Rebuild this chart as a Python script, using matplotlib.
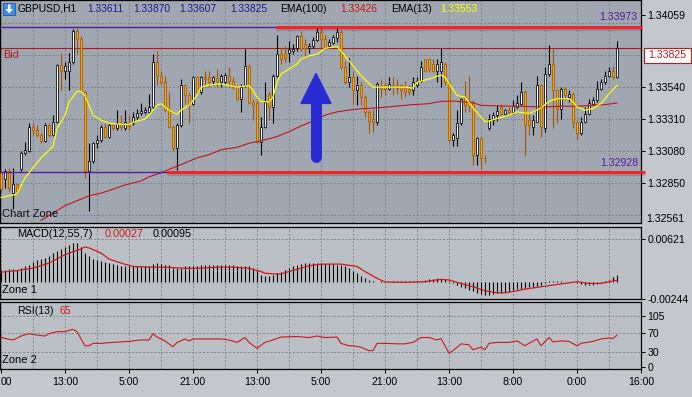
import numpy as np
import matplotlib
matplotlib.use('Agg')
import matplotlib.pyplot as plt
from matplotlib.patches import Rectangle, Polygon

plt.rcParams['font.family'] = ['Liberation Sans', 'DejaVu Sans']

# ---------------- data (GBPUSD H1) ----------------
opens = [1.32923, 1.32875, 1.32935, 1.32780, 1.32840, 1.32947, 1.33065, 1.33077, 1.33255, 1.33231,
         1.33196, 1.33153, 1.33267, 1.33196, 1.33291, 1.33699, 1.33658, 1.33658, 1.33718, 1.33943,
         1.33884, 1.33504, 1.32935, 1.33006, 1.33136, 1.33160, 1.33255, 1.33184, 1.33267, 1.33243,
         1.33272, 1.33243, 1.33279, 1.33279, 1.33326, 1.33357, 1.33362, 1.33362, 1.33397, 1.33718,
         1.33623, 1.33575, 1.33374, 1.33255, 1.33101, 1.33267, 1.33552, 1.33480, 1.33421, 1.33611,
         1.33504, 1.33611, 1.33611, 1.33587, 1.33604, 1.33575, 1.33575, 1.33623, 1.33587, 1.33540,
         1.33457, 1.33552, 1.33694, 1.33433, 1.33428, 1.33148, 1.33255, 1.33492, 1.33397, 1.33623,
         1.33777, 1.33784, 1.33789, 1.33801, 1.33825, 1.33908, 1.33848, 1.33825, 1.33836, 1.33879,
         1.33936, 1.33889, 1.33836, 1.33860, 1.33896, 1.33936, 1.33682, 1.33575, 1.33611, 1.33516,
         1.33552, 1.33469, 1.33362, 1.33310, 1.33291, 1.33547, 1.33552, 1.33528, 1.33556, 1.33552,
         1.33552, 1.33540, 1.33528, 1.33516, 1.33552, 1.33587, 1.33742, 1.33742, 1.33706, 1.33658,
         1.33658, 1.33706, 1.33575, 1.33160, 1.33172, 1.33279, 1.33469, 1.33438, 1.33428, 1.33053,
         1.33172, 1.33030, 1.33248, 1.33303, 1.33338, 1.33397, 1.33343, 1.33378, 1.33362, 1.33397,
         1.33421, 1.33504, 1.33303, 1.33255, 1.33291, 1.33552, 1.33243, 1.33635, 1.33706, 1.33516,
         1.33386, 1.33528, 1.33469, 1.33492, 1.33291, 1.33208, 1.33291, 1.33350, 1.33421, 1.33445,
         1.33528, 1.33575, 1.33623, 1.33658, 1.33611]
highs = [1.32935, 1.32947, 1.32958, 1.32958, 1.32852, 1.33077, 1.33148, 1.33279, 1.33279, 1.33267,
         1.33208, 1.33279, 1.33279, 1.33338, 1.33706, 1.33789, 1.33718, 1.33789, 1.33960, 1.33967,
         1.33908, 1.33516, 1.33136, 1.33148, 1.33196, 1.33267, 1.33279, 1.33279, 1.33279, 1.33374,
         1.33338, 1.33374, 1.33338, 1.33362, 1.33386, 1.33428, 1.33397, 1.33492, 1.33777, 1.33801,
         1.33658, 1.33623, 1.33504, 1.33267, 1.33279, 1.33599, 1.33564, 1.33504, 1.33623, 1.33623,
         1.33623, 1.33658, 1.33658, 1.33623, 1.33670, 1.33635, 1.33642, 1.33682, 1.33611, 1.33552,
         1.33564, 1.33813, 1.33706, 1.33457, 1.33445, 1.33326, 1.33575, 1.33504, 1.33635, 1.33919,
         1.33825, 1.33836, 1.33872, 1.33848, 1.33919, 1.33943, 1.33884, 1.33860, 1.33903, 1.33967,
         1.33967, 1.33919, 1.33884, 1.33919, 1.33967, 1.33955, 1.33730, 1.33753, 1.33658, 1.33623,
         1.33587, 1.33480, 1.33374, 1.33386, 1.33575, 1.33599, 1.33587, 1.33611, 1.33611, 1.33599,
         1.33564, 1.33587, 1.33552, 1.33611, 1.33611, 1.33730, 1.33746, 1.33753, 1.33742, 1.33742,
         1.33825, 1.33718, 1.33587, 1.33208, 1.33374, 1.33462, 1.33587, 1.33623, 1.33445, 1.33184,
         1.33184, 1.33053, 1.33350, 1.33362, 1.33409, 1.33421, 1.33386, 1.33397, 1.33445, 1.33480,
         1.33575, 1.33516, 1.33362, 1.33338, 1.33623, 1.33564, 1.33682, 1.33841, 1.33825, 1.33528,
         1.33540, 1.33540, 1.33516, 1.33504, 1.33303, 1.33326, 1.33397, 1.33457, 1.33469, 1.33587,
         1.33599, 1.33658, 1.33682, 1.33694, 1.33870]
lows = [1.32792, 1.32816, 1.32792, 1.32662, 1.32769, 1.32935, 1.33053, 1.33070, 1.33196, 1.33184,
        1.33136, 1.33148, 1.33184, 1.33191, 1.33285, 1.33516, 1.33599, 1.33516, 1.33706, 1.33777,
        1.33504, 1.32887, 1.32650, 1.32994, 1.33101, 1.33148, 1.33172, 1.33172, 1.33231, 1.33231,
        1.33231, 1.33231, 1.33231, 1.33267, 1.33314, 1.33338, 1.33350, 1.33357, 1.33386, 1.33552,
        1.33552, 1.33362, 1.33243, 1.33077, 1.32940, 1.33255, 1.33421, 1.33279, 1.33409, 1.33492,
        1.33492, 1.33540, 1.33540, 1.33552, 1.33540, 1.33540, 1.33564, 1.33540, 1.33528, 1.33445,
        1.33362, 1.33540, 1.33421, 1.33303, 1.33136, 1.33053, 1.33243, 1.33303, 1.33279, 1.33611,
        1.33706, 1.33718, 1.33718, 1.33777, 1.33801, 1.33801, 1.33765, 1.33789, 1.33825, 1.33872,
        1.33825, 1.33813, 1.33825, 1.33848, 1.33865, 1.33670, 1.33564, 1.33540, 1.33421, 1.33409,
        1.33409, 1.33326, 1.33208, 1.33219, 1.33267, 1.33469, 1.33480, 1.33516, 1.33480, 1.33492,
        1.33457, 1.33469, 1.33480, 1.33480, 1.33540, 1.33575, 1.33651, 1.33647, 1.33647, 1.33575,
        1.33540, 1.33552, 1.33148, 1.33113, 1.33113, 1.33267, 1.33362, 1.33362, 1.32982, 1.32982,
        1.32947, 1.32994, 1.33231, 1.33267, 1.33295, 1.33338, 1.33338, 1.33338, 1.33350, 1.33390,
        1.33409, 1.33041, 1.33196, 1.33196, 1.33286, 1.33184, 1.33219, 1.33623, 1.33243, 1.33279,
        1.33314, 1.33445, 1.33433, 1.33243, 1.33160, 1.33196, 1.33279, 1.33338, 1.33409, 1.33433,
        1.33516, 1.33564, 1.33611, 1.33599, 1.33607]
closes = [1.32804, 1.32935, 1.32816, 1.32840, 1.32792, 1.33065, 1.33089, 1.33255, 1.33231, 1.33196,
          1.33153, 1.33267, 1.33196, 1.33291, 1.33699, 1.33658, 1.33694, 1.33718, 1.33943, 1.33884,
          1.33509, 1.32935, 1.33006, 1.33136, 1.33160, 1.33255, 1.33184, 1.33267, 1.33243, 1.33272,
          1.33255, 1.33291, 1.33262, 1.33326, 1.33357, 1.33367, 1.33374, 1.33397, 1.33718, 1.33623,
          1.33575, 1.33374, 1.33255, 1.33101, 1.33267, 1.33552, 1.33480, 1.33421, 1.33611, 1.33504,
          1.33611, 1.33599, 1.33575, 1.33611, 1.33587, 1.33623, 1.33628, 1.33587, 1.33540, 1.33457,
          1.33540, 1.33694, 1.33428, 1.33414, 1.33148, 1.33255, 1.33433, 1.33397, 1.33623, 1.33777,
          1.33742, 1.33753, 1.33813, 1.33813, 1.33908, 1.33813, 1.33820, 1.33836, 1.33879, 1.33936,
          1.33889, 1.33832, 1.33865, 1.33903, 1.33936, 1.33682, 1.33575, 1.33611, 1.33516, 1.33552,
          1.33469, 1.33362, 1.33295, 1.33291, 1.33564, 1.33528, 1.33528, 1.33564, 1.33540, 1.33533,
          1.33516, 1.33504, 1.33504, 1.33575, 1.33587, 1.33682, 1.33658, 1.33670, 1.33658, 1.33706,
          1.33718, 1.33575, 1.33160, 1.33196, 1.33279, 1.33457, 1.33409, 1.33404, 1.33053, 1.33172,
          1.33030, 1.33028, 1.33310, 1.33338, 1.33367, 1.33343, 1.33374, 1.33362, 1.33405, 1.33428,
          1.33504, 1.33267, 1.33267, 1.33303, 1.33552, 1.33255, 1.33635, 1.33706, 1.33516, 1.33386,
          1.33528, 1.33480, 1.33492, 1.33291, 1.33208, 1.33291, 1.33350, 1.33428, 1.33445, 1.33528,
          1.33575, 1.33623, 1.33658, 1.33611, 1.33825]

ema13_idx = [0, 4, 6, 8, 10, 13, 14, 16, 17, 19, 20, 21, 22, 23, 25, 27, 30, 32, 34, 36,
             37, 39, 40, 42, 44, 45, 47, 49, 50, 52, 55, 59, 62, 63, 64, 65, 67, 68, 69, 70,
             72, 74, 75, 77, 79, 81, 84, 85, 88, 90, 93, 96, 101, 103, 104, 107, 110, 111, 114, 116,
             118, 121, 122, 124, 127, 129, 132, 133, 135, 137, 139, 142, 143, 144, 146, 148, 150, 152, 154]
ema13_val = [1.32745, 1.32769, 1.32887, 1.32958, 1.33030, 1.33113, 1.33243, 1.33338, 1.33433, 1.33509,
             1.33509, 1.33480, 1.33409, 1.33338, 1.33303, 1.33279, 1.33272, 1.33272, 1.33295, 1.33310,
             1.33338, 1.33409, 1.33421, 1.33374, 1.33343, 1.33374, 1.33409, 1.33480, 1.33540, 1.33556,
             1.33564, 1.33540, 1.33552, 1.33516, 1.33469, 1.33438, 1.33433, 1.33469, 1.33575, 1.33635,
             1.33670, 1.33706, 1.33742, 1.33765, 1.33777, 1.33820, 1.33832, 1.33801, 1.33694, 1.33623,
             1.33540, 1.33540, 1.33540, 1.33533, 1.33575, 1.33599, 1.33628, 1.33611, 1.33480, 1.33469,
             1.33390, 1.33291, 1.33295, 1.33314, 1.33338, 1.33362, 1.33350, 1.33362, 1.33390, 1.33438,
             1.33457, 1.33457, 1.33433, 1.33397, 1.33374, 1.33386, 1.33421, 1.33492, 1.33553]

ema100_idx = [10, 16, 20, 22, 25, 28, 31, 35, 37, 40, 42, 45, 49, 52, 55, 59, 62, 65, 69, 72,
              75, 78, 81, 84, 88, 91, 94, 99, 103, 107, 110, 113, 116, 118, 120, 125, 130, 135, 140, 145,
              148, 151, 154]
ema100_val = [1.32580, 1.32686, 1.32733, 1.32757, 1.32776, 1.32804, 1.32835, 1.32864, 1.32894, 1.32923,
              1.32947, 1.32982, 1.33030, 1.33053, 1.33089, 1.33106, 1.33136, 1.33153, 1.33184, 1.33219,
              1.33260, 1.33295, 1.33338, 1.33362, 1.33379, 1.33386, 1.33390, 1.33404, 1.33414, 1.33421,
              1.33438, 1.33440, 1.33433, 1.33428, 1.33409, 1.33404, 1.33402, 1.33397, 1.33402, 1.33404,
              1.33409, 1.33414, 1.33426]

macd_hist = [0.00177, 0.00177, 0.00187, 0.00187, 0.00177, 0.00201, 0.00226, 0.00250, 0.00285, 0.00314,
             0.00334, 0.00349, 0.00373, 0.00422, 0.00447, 0.00481, 0.00511, 0.00545, 0.00570, 0.00570,
             0.00511, 0.00422, 0.00373, 0.00334, 0.00314, 0.00300, 0.00285, 0.00275, 0.00265, 0.00250,
             0.00236, 0.00226, 0.00226, 0.00226, 0.00226, 0.00226, 0.00226, 0.00240, 0.00265, 0.00275,
             0.00265, 0.00250, 0.00250, 0.00201, 0.00201, 0.00201, 0.00226, 0.00226, 0.00226, 0.00236,
             0.00250, 0.00250, 0.00250, 0.00250, 0.00250, 0.00250, 0.00250, 0.00241, 0.00241, 0.00236,
             0.00226, 0.00226, 0.00226, 0.00201, 0.00177, 0.00103, 0.00088, 0.00088, 0.00103, 0.00128,
             0.00152, 0.00177, 0.00201, 0.00226, 0.00250, 0.00265, 0.00275, 0.00275, 0.00275, 0.00275,
             0.00275, 0.00265, 0.00265, 0.00265, 0.00250, 0.00250, 0.00226, 0.00201, 0.00167, 0.00128,
             0.00088, 0.00054, 0.00029, 0.00015, 0.00005, 0.00008, 0.00006, 0.00005, 0.00008, 0.00010,
             0.00008, 0.00012, 0.00015, 0.00018, 0.00015, 0.00020, 0.00029, 0.00039, 0.00049, 0.00054,
             0.00049, 0.00039, 0.00015, -0.00020, -0.00044, -0.00069, -0.00093, -0.00118, -0.00133, -0.00157,
             -0.00177, -0.00191, -0.00191, -0.00177, -0.00167, -0.00157, -0.00147, -0.00133, -0.00118, -0.00108,
             -0.00098, -0.00088, -0.00079, -0.00069, -0.00059, -0.00049, -0.00020, 0.00010, 0.00015, 0.00010,
             0.00010, 0.00003, 0.00005, -0.00003, -0.00020, -0.00034, -0.00044, -0.00044, -0.00039, -0.00029,
             -0.00010, 0.00010, 0.00029, 0.00069, 0.00095]
signal_idx = [0, 4, 8, 12, 16, 20, 21, 22, 25, 27, 30, 33, 37, 41, 46, 50, 54, 58, 62, 65,
              66, 68, 70, 72, 75, 77, 80, 83, 85, 89, 91, 94, 96, 101, 106, 110, 112, 115, 118, 121,
              124, 126, 129, 131, 135, 138, 141, 144, 147, 150, 151, 154]
signal_val = [0.00142, 0.00167, 0.00201, 0.00275, 0.00398, 0.00481, 0.00511, 0.00496, 0.00422, 0.00334,
              0.00275, 0.00226, 0.00216, 0.00216, 0.00201, 0.00201, 0.00216, 0.00216, 0.00201, 0.00152,
              0.00128, 0.00118, 0.00118, 0.00152, 0.00201, 0.00236, 0.00260, 0.00260, 0.00260, 0.00226,
              0.00152, 0.00054, 0.00000, -0.00005, 0.00005, 0.00039, 0.00029, -0.00020, -0.00069, -0.00128,
              -0.00157, -0.00157, -0.00128, -0.00103, -0.00069, -0.00044, -0.00020, 0.00005, -0.00020, -0.00020,
              -0.00010, 0.00027]

rsi_idx = [0, 1, 3, 5, 7, 9, 11, 12, 14, 16, 18, 19, 21, 22, 23, 25, 28, 32, 35, 37,
           38, 39, 41, 43, 44, 46, 47, 48, 50, 55, 57, 59, 61, 62, 64, 66, 68, 70, 74, 77,
           79, 81, 84, 85, 87, 88, 90, 92, 93, 94, 96, 99, 101, 103, 105, 107, 109, 110, 112, 113,
           115, 117, 118, 120, 121, 122, 124, 127, 129, 131, 132, 134, 135, 137, 138, 140, 142, 144, 145, 148,
           150, 152, 153, 154]
rsi_val = [61, 58, 55, 63, 68, 65, 63, 68, 72, 72, 77, 72, 43, 43, 48, 48, 50, 52, 55, 55,
           68, 61, 53, 41, 50, 57, 53, 57, 57, 57, 55, 50, 60, 50, 38, 50, 55, 61, 62, 60,
           63, 60, 61, 48, 43, 43, 40, 33, 33, 48, 48, 47, 47, 50, 60, 60, 55, 58, 28, 33,
           47, 45, 35, 40, 35, 48, 50, 50, 53, 43, 48, 57, 43, 60, 51, 53, 52, 43, 48, 52,
           57, 59, 58, 65]

time_ticks = [0, 16, 32, 48, 64, 80, 96, 112, 128, 144, 160]
# the first label sits on the left edge, only its "00" shows
time_labels = ['00', '13:00', '5:00', '21:00', '13:00', '5:00', '21:00', '13:00', '8:00', '0:00', '16:00']
price_ticks = [1.32850, 1.33080, 1.33310, 1.33540, 1.34059]
price_grid = [1.32620, 1.32850, 1.33080, 1.33310, 1.33540, 1.33770, 1.34000]
resistance = 1.33973
support = 1.32928
bid = 1.33825

# ---------------- style ----------------
W, H = 692, 397
FIG_BG = '#c4c8ce'
MAIN_BG = '#a0a7b1'
SUB_BG = '#bbc0c7'
GRID = '#76808d'
PURPLE = '#5a1aa0'
BULL_FILL, BULL_EDGE = '#f2f8f8', '#000000'
BEAR_FILL, BEAR_EDGE = '#f7a900', '#a85400'


def fx(px):
    return px / W


def fy(py):
    return 1 - py / H


def pane(top, bottom, left=0, right=641):
    return [left / W, 1 - bottom / H, (right - left) / W, (bottom - top) / H]


fig = plt.figure(figsize=(W / 100, H / 100), dpi=100, facecolor=FIG_BG)
ax0 = fig.add_axes(pane(0, 223))
ax1 = fig.add_axes(pane(227, 299))
ax2 = fig.add_axes(pane(302, 369))

for ax, bg in ((ax0, MAIN_BG), (ax1, SUB_BG), (ax2, SUB_BG)):
    ax.set_facecolor(bg)
    ax.set_xlim(-0.25, 160)
    for s in ax.spines.values():
        s.set_color('black')
        s.set_linewidth(0.9)
    for g in range(0, 161, 8):
        ax.axvline(g, color=GRID, lw=0.6, ls=(0, (2.5, 2)), zorder=0)
    ax.yaxis.tick_right()
    ax.tick_params(axis='y', direction='out', length=3, width=0.7, pad=1.5,
                   labelsize=7.6, colors='black')
    ax.tick_params(axis='x', bottom=False, labelbottom=False)

# ---------------- main pane ----------------
x = np.arange(len(opens))
o, h, l, c = (np.array(v) for v in (opens, highs, lows, closes))
up = c >= o
for g in price_grid:
    ax0.axhline(g, color=GRID, lw=0.6, ls=(0, (2.5, 2)), zorder=0)

ax0.axhline(bid, color='#a81c1c', lw=0.8, zorder=1)
ax0.vlines(x[up], l[up], h[up], color='black', lw=0.8, zorder=2)
ax0.vlines(x[~up], l[~up], h[~up], color=BEAR_EDGE, lw=0.8, zorder=2)
ax0.bar(x[up], c[up] - o[up], bottom=o[up], width=0.62, color=BULL_FILL,
        edgecolor=BULL_EDGE, lw=0.55, zorder=3)
ax0.bar(x[~up], np.minimum(c[~up] - o[~up], -0.00002), bottom=o[~up], width=0.62,
        color=BEAR_FILL, edgecolor=BEAR_EDGE, lw=0.55, zorder=3)

ax0.plot(ema100_idx, ema100_val, color='#c2141c', lw=0.8, zorder=4)
ax0.plot(ema13_idx, ema13_val, color='#ffff00', lw=0.9, zorder=5)

ax0.axhline(resistance, color=PURPLE, lw=1.0, zorder=4)
ax0.axhline(support, color=PURPLE, lw=1.0, zorder=4)
shift = 0.00013
ax0.plot([68.75, 160.3], [resistance - shift] * 2, color='black', alpha=0.15, lw=2.4, zorder=5,
         solid_capstyle='butt', clip_on=False)
ax0.plot([41.5, 161], [support - shift] * 2, color='black', alpha=0.15, lw=2.4, zorder=5,
         solid_capstyle='butt', clip_on=False)
ax0.plot([68.75, 160.3], [resistance] * 2, color='#ff1c1c', lw=2.0, zorder=6,
         solid_capstyle='butt', clip_on=False)
ax0.plot([41.5, 161], [support] * 2, color='#ff1c1c', lw=2.0, zorder=6,
         solid_capstyle='butt', clip_on=False)

# blue arrow
ARROW = '#2a2ad2'
ax0.plot([78.75, 78.75], [1.33040, 1.33430], color=ARROW, lw=7.9, solid_capstyle='round', zorder=7)
ax0.add_patch(Polygon([(75.0, 1.33423), (82.5, 1.33423), (78.75, 1.33639)],
                      closed=True, color=ARROW, zorder=7))

ax0.set_ylim(1.32561, 1.34168)
ax0.set_yticks(price_ticks)
ax0.set_yticklabels(['%.5f' % p for p in price_ticks])
fig.text(fx(646), fy(219), '1.32561', fontsize=7.6, va='center', ha='left')

# ---------------- MACD pane ----------------
ax1.axhline(0.00621, color=GRID, lw=0.6, ls=(0, (2.5, 2)), zorder=0)
ax1.vlines(x, 0, macd_hist, color='black', lw=0.8, zorder=2)
ax1.plot(signal_idx, signal_val, color='#d21818', lw=0.9, zorder=3)
ax1.set_ylim(-0.00247, 0.00800)
ax1.set_yticks([-0.00244, 0.00621])
ax1.set_yticklabels(['-0.00244', '0.00621'])

# ---------------- RSI pane ----------------
for lev in (105, 70, 30):
    ax2.axhline(lev, color=GRID, lw=0.6, ls=(0, (2.5, 2)), zorder=0)
ax2.plot(rsi_idx, rsi_val, color='#cc1a1a', lw=0.8, zorder=3)
ax2.set_ylim(-4.7, 133)
ax2.set_yticks([0, 30, 70, 105])
ax2.set_yticklabels(['0', '30', '70', '105'])
ax2.set_xticks(time_ticks)
ax2.set_xticklabels(time_labels)
ax2.tick_params(axis='x', bottom=True, labelbottom=True, direction='out', length=3,
                width=0.7, pad=3, labelsize=7.6)
first = ax2.get_xticklabels()[0]
first.set_horizontalalignment('left')

# ---------------- texts ----------------
fig.patches.append(Rectangle((fx(3), fy(15)), 12 / W, 12.5 / H, transform=fig.transFigure,
                             facecolor='#3b8fe6', edgecolor='#1f5fb0', lw=0.6))
fig.patches.append(Polygon([(fx(8), fy(4.5)), (fx(10.5), fy(4.5)), (fx(10.5), fy(9)), (fx(13), fy(9)),
                            (fx(9.25), fy(13.5)), (fx(5.5), fy(9)), (fx(8), fy(9))],
                           closed=True, transform=fig.transFigure, facecolor='white', edgecolor='none'))

NAVY = '#1c1c8a'
head = [(17, 'GBPUSD,H1', 'black'), (87, '1.33611', NAVY), (133, '1.33870', NAVY),
        (179, '1.33607', NAVY), (230, '1.33825', NAVY), (280, 'EMA(100)', 'black'),
        (340, '1.33426', '#c41818'), (391, 'EMA(13)', 'black'), (440, '1.33553', '#ffff00')]
for px, s, col in head:
    fig.text(fx(px), fy(8.5), s, color=col, fontsize=7.4, va='center', ha='left')

fig.text(fx(3), fy(55), 'Bid', color='#b01818', fontsize=7.8, va='center')
fig.text(fx(2), fy(214), 'Chart Zone', color='#111111', fontsize=8, va='center')
fig.text(fx(637), fy(17), '1.33973', color=PURPLE, fontsize=7.6, va='center', ha='right')
fig.text(fx(638), fy(163), '1.32928', color=PURPLE, fontsize=7.6, va='center', ha='right')

# bid price box on the scale
fig.patches.append(Rectangle((fx(644), fy(63)), 47 / W, 15 / H, transform=fig.transFigure,
                             facecolor='white', edgecolor='#c01818', lw=0.8, zorder=5))
fig.text(fx(667.5), fy(55.5), '1.33825', color='#c01818', fontsize=7.6, va='center', ha='center',
         zorder=6)

fig.text(fx(17), fy(234), 'MACD(12,55,7)', fontsize=7.8, va='center')
fig.text(fx(105), fy(234), '0.00027', color='#d21818', fontsize=7.8, va='center')
fig.text(fx(153), fy(234), '0.00095', color='black', fontsize=7.8, va='center')
fig.text(fx(2), fy(290), 'Zone 1', fontsize=8, va='center')

fig.text(fx(17), fy(311), 'RSI(13)', fontsize=7.6, va='center')
fig.text(fx(60), fy(311), '65', color='#cc1a1a', fontsize=7.6, va='center')
fig.text(fx(2), fy(360), 'Zone 2', fontsize=8, va='center')

fig.savefig('out.png', dpi=100, facecolor=fig.get_facecolor())
